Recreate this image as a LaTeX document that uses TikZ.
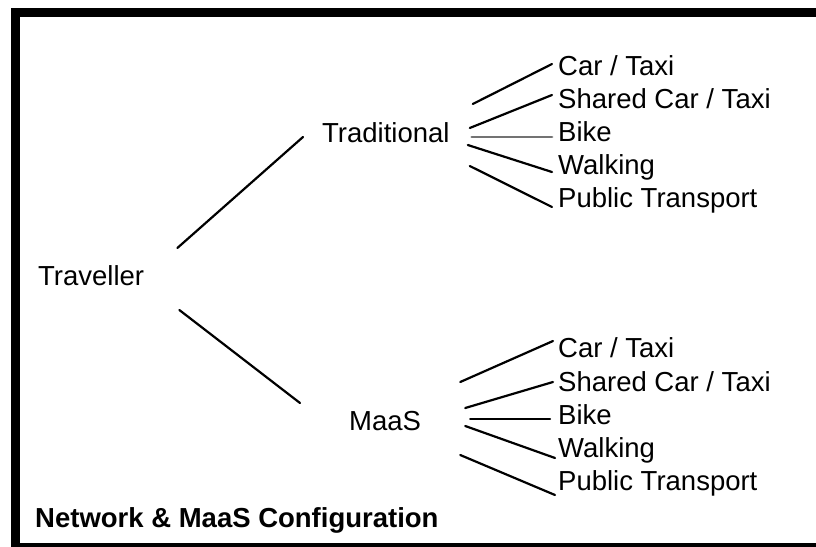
\documentclass[tikz,border=0pt]{standalone}
\usepackage{fontspec}
\setmainfont{Liberation Sans}
\begin{document}
\begin{tikzpicture}[x=1pt,y=-1pt,
  lbl/.style={inner sep=0pt, anchor=base west, font=\fontsize{27.5}{32}\selectfont},
  ttl/.style={inner sep=0pt, anchor=base west, font=\fontsize{27.5}{32}\selectfont\bfseries},
  link/.style={line width=2.2pt, line cap=round},
  softlink/.style={link, draw=black!55, line width=2.8pt},
]
\useasboundingbox (0,0) rectangle (816,546);
\fill[white] (0,0) rectangle (816,546);

% heavy frame, running off the right and bottom edges
\begin{scope}
  \clip (0,0) rectangle (816,546);
  \draw[line width=9pt] (15,12.5) rectangle (830,547);
\end{scope}

% tree nodes
\node[lbl] (trav) at (38,285) {Traveller};
\node[lbl] (trad) at (322,142) {Traditional};
\node[lbl] (maas) at (349,430) {MaaS};

\node[lbl] (tcar)   at (558,75)  {Car / Taxi};
\node[lbl] (tshare) at (558,108) {Shared Car / Taxi};
\node[lbl] (tbike)  at (558,141) {Bike};
\node[lbl] (twalk)  at (558,174) {Walking};
\node[lbl] (tpub)   at (558,207) {Public Transport};

\node[lbl] (mcar)   at (558,357) {Car / Taxi};
\node[lbl] (mshare) at (558,391) {Shared Car / Taxi};
\node[lbl] (mbike)  at (558,424) {Bike};
\node[lbl] (mwalk)  at (558,457) {Walking};
\node[lbl] (mpub)   at (558,490) {Public Transport};

\node[ttl] (title) at (35,527) {Network \& MaaS Configuration};

% first level
\draw[link] ([shift={(33,-37)}]trav.base east) -- ([shift={(-19,-5)}]trad.base west);
\draw[link] ([shift={(35,25)}]trav.base east)  -- ([shift={(-49,-27)}]maas.base west);

% traditional modes
\draw[link]     ([shift={(23,-38)}]trad.base east) -- ([shift={(-6,-11)}]tcar.base west);
\draw[link]     ([shift={(20,-14)}]trad.base east) -- ([shift={(-6,-13)}]tshare.base west);
\draw[softlink] ([shift={(22,-5)}]trad.base east)  -- ([shift={(-6,-4)}]tbike.base west);
\draw[link]     ([shift={(18,3)}]trad.base east)   -- ([shift={(-6,-2)}]twalk.base west);
\draw[link]     ([shift={(20,24)}]trad.base east)  -- ([shift={(-6,0)}]tpub.base west);

% MaaS modes
\draw[link] ([shift={(39,-48)}]maas.base east) -- ([shift={(-5,-16)}]mcar.base west);
\draw[link] ([shift={(44,-22)}]maas.base east) -- ([shift={(-5,-9)}]mshare.base west);
\draw[link] ([shift={(49,-11)}]maas.base east) -- ([shift={(-8,-5)}]mbike.base west);
\draw[link] ([shift={(44,-4)}]maas.base east)  -- ([shift={(-3,1)}]mwalk.base west);
\draw[link] ([shift={(39,25)}]maas.base east)  -- ([shift={(-3,5)}]mpub.base west);
\end{tikzpicture}
\end{document}
